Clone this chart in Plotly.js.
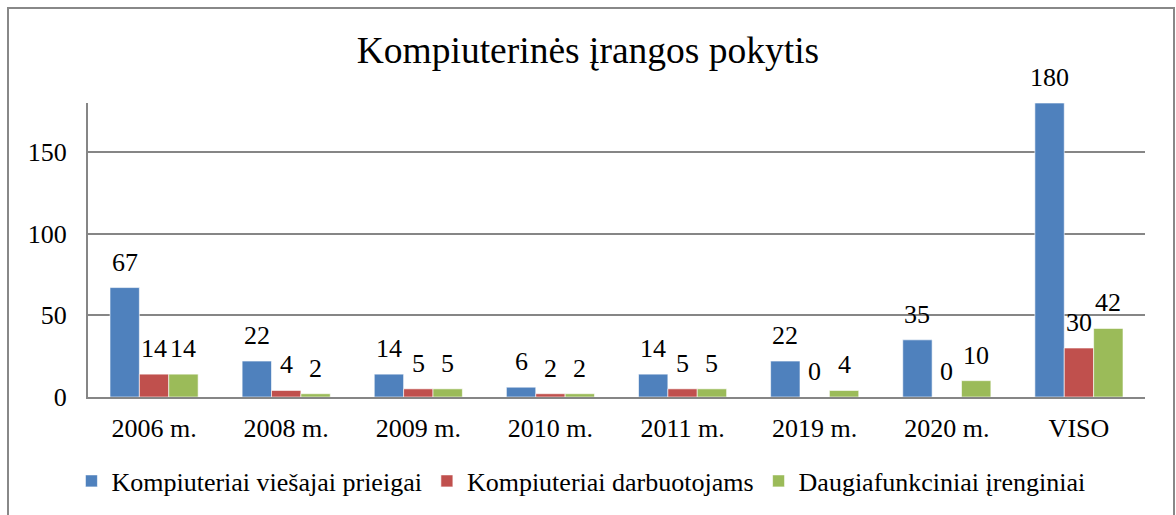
<!DOCTYPE html>
<html>
<head>
<meta charset="utf-8">
<script src="https://cdn.plot.ly/plotly-3.0.1.min.js"></script>
<style>
  html, body { margin: 0; padding: 0; background: #fff; }
  #chart { width: 1176px; height: 515px; }
</style>
</head>
<body>
<div id="chart"></div>
<script>
const categories = ["2006 m.", "2008 m.", "2009 m.", "2010 m.", "2011 m.", "2019 m.", "2020 m.", "VISO"];
const seriesNames = ["Kompiuteriai viešajai prieigai", "Kompiuteriai darbuotojams", "Daugiafunkciniai įrenginiai"];
const publicPCs = [67, 22, 14, 6, 14, 22, 35, 180];
const staffPCs = [14, 4, 5, 2, 5, 0, 0, 30];
const multiDevices = [14, 2, 5, 2, 5, 4, 10, 42];
const yTicks = [0, 50, 100, 150];

const colors = ["#4F81BD", "#C0504D", "#9BBB59"];
const FONT = "Liberation Serif, Times New Roman, serif";
const values = [publicPCs, staffPCs, multiDevices];

const W = 1176, H = 515;
const M = { l: 88, r: 31, t: 103, b: 118 };
const BARGAP = 0.333;
const plotW = W - M.l - M.r;
const barPx = plotW / categories.length * (1 - BARGAP) / values.length;

const traces = values.map((v, i) => ({
  type: "bar",
  name: seriesNames[i],
  x: categories,
  y: v,
  textposition: "none",
  cliponaxis: false,
  marker: { color: colors[i], line: { color: "rgba(255,255,255,0.6)", width: 1 } },
  hoverinfo: "x+y+name"
}));

// data labels, anchored to each bar's value through the axes
const annotations = [];
values.forEach((v, i) => {
  v.forEach((val, j) => {
    annotations.push({
      x: categories[j], y: val, xref: "x", yref: "y",
      text: String(val),
      showarrow: false,
      xanchor: "center", yanchor: "bottom",
      xshift: (i - (values.length - 1) / 2) * barPx,
      yshift: 9,
      font: { family: FONT, size: 26, color: "#000" }
    });
  });
});

const layout = {
  width: W,
  height: H,
  margin: { l: M.l, r: M.r, t: M.t, b: M.b, autoexpand: false },
  paper_bgcolor: "#fff",
  plot_bgcolor: "#fff",
  font: { family: FONT, size: 26, color: "#000" },
  title: {
    text: "Kompiuterinės įrangos pokytis",
    font: { family: FONT, size: 37.5, color: "#000" },
    x: 0.5, xref: "container", xanchor: "center",
    y: 1 - 50 / H, yref: "container", yanchor: "middle",
    automargin: false
  },
  barmode: "group",
  bargap: BARGAP,
  bargroupgap: 0,
  showlegend: true,
  legend: {
    orientation: "h",
    x: 0.494, xanchor: "center", xref: "container",
    y: 1 - 481 / H, yref: "container", yanchor: "middle",
    font: { family: FONT, size: 26, color: "#000" },
    itemclick: false, itemdoubleclick: false,
    traceorder: "normal",
    itemwidth: 30,
    tracegroupgap: 0
  },
  annotations: annotations,
  xaxis: {
    type: "category",
    automargin: false,
    tickangle: 0,
    showline: true, linecolor: "#868686", linewidth: 2,
    showgrid: false, ticks: "",
    ticklabelstandoff: 7,
    tickfont: { family: FONT, size: 26, color: "#000" },
    fixedrange: true
  },
  yaxis: {
    automargin: false,
    range: [0, 180],
    tickvals: yTicks,
    ticktext: yTicks.map(String),
    showline: true, linecolor: "#868686", linewidth: 2,
    showgrid: true, gridcolor: "#868686", gridwidth: 2,
    zeroline: false, ticks: "",
    ticklabelstandoff: 14,
    tickfont: { family: FONT, size: 26, color: "#000" },
    fixedrange: true
  },
  shapes: [{
    type: "rect", xref: "paper", yref: "paper",
    x0: (8 - M.l) / plotW, x1: (1174 - M.l) / plotW,
    y0: (397 - 530) / 294, y1: (397 - 8) / 294,
    line: { color: "#888888", width: 2 },
    fillcolor: "rgba(0,0,0,0)",
    layer: "below"
  }]
};

Plotly.newPlot("chart", traces, layout, { displayModeBar: false, staticPlot: true });
</script>
</body>
</html>
